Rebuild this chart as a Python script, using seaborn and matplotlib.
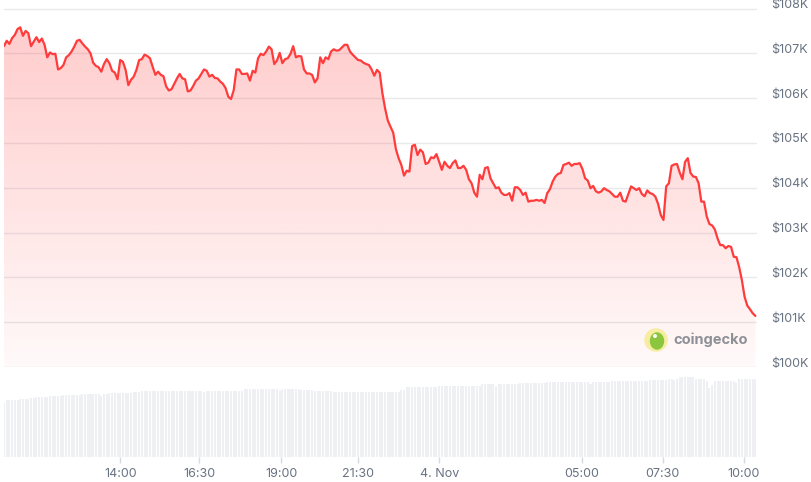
import numpy as np
import pandas as pd
import matplotlib
matplotlib.use("Agg")
import matplotlib.pyplot as plt
import matplotlib.transforms as mtransforms
from matplotlib.patches import Ellipse
import seaborn as sns

# ---------- Data (5-minute samples, price in $K) ----------
price_k = [
    107.16, 107.28, 107.21, 107.34, 107.41, 107.54, 107.58, 107.39, 107.50, 107.45,
    107.16, 107.26, 107.36, 107.25, 107.33, 107.19, 106.91, 107.02, 106.98, 106.99,
    106.64, 106.67, 106.74, 106.91, 106.96, 107.04, 107.15, 107.28, 107.30, 107.22,
    107.15, 107.09, 107.00, 106.79, 106.72, 106.69, 106.59, 106.76, 106.87, 106.78,
    106.61, 106.57, 106.42, 106.85, 106.81, 106.63, 106.29, 106.41, 106.48, 106.63,
    106.85, 106.87, 106.97, 106.94, 106.89, 106.70, 106.52, 106.59, 106.52, 106.49,
    106.26, 106.17, 106.20, 106.32, 106.44, 106.54, 106.44, 106.42, 106.15, 106.17,
    106.27, 106.39, 106.44, 106.54, 106.64, 106.61, 106.48, 106.52, 106.45, 106.44,
    106.37, 106.32, 106.22, 106.03, 105.98, 106.18, 106.64, 106.64, 106.54, 106.54,
    106.55, 106.39, 106.61, 106.57, 106.89, 106.99, 106.96, 107.04, 107.15, 107.09,
    106.76, 106.84, 107.01, 106.78, 106.87, 106.89, 106.99, 107.16, 106.91, 106.94,
    106.93, 106.64, 106.55, 106.55, 106.52, 106.35, 106.44, 106.91, 106.78, 106.91,
    106.87, 107.04, 107.09, 107.06, 107.07, 107.13, 107.19, 107.19, 107.04, 106.97,
    106.91, 106.85, 106.84, 106.79, 106.76, 106.74, 106.64, 106.50, 106.63, 106.57,
    106.11, 105.77, 105.50, 105.36, 105.23, 104.86, 104.66, 104.51, 104.27, 104.38,
    104.36, 104.93, 104.96, 104.73, 104.85, 104.79, 104.53, 104.56, 104.68, 104.66,
    104.75, 104.58, 104.40, 104.58, 104.49, 104.44, 104.55, 104.61, 104.44, 104.44,
    104.49, 104.40, 104.19, 104.10, 103.89, 103.80, 104.29, 104.19, 104.44, 104.46,
    104.21, 104.10, 103.99, 104.01, 103.89, 103.84, 103.84, 103.88, 103.71, 104.01,
    104.01, 103.95, 103.84, 103.89, 103.69, 103.71, 103.71, 103.73, 103.71, 103.73,
    103.66, 103.88, 103.97, 104.14, 104.25, 104.31, 104.33, 104.51, 104.53, 104.56,
    104.49, 104.53, 104.53, 104.55, 104.42, 104.21, 104.16, 103.99, 104.04, 103.92,
    103.89, 103.92, 103.99, 103.95, 103.92, 103.86, 103.80, 103.80, 103.89, 103.71,
    103.69, 103.86, 104.03, 103.99, 103.95, 103.99, 103.86, 103.81, 103.94, 103.88,
    103.86, 103.80, 103.64, 103.39, 103.28, 104.03, 104.10, 104.49, 104.52, 104.53,
    104.34, 104.19, 104.58, 104.66, 104.33, 104.25, 104.24, 104.10, 103.69, 103.69,
    103.36, 103.19, 103.16, 103.07, 102.87, 102.72, 102.72, 102.65, 102.70, 102.68,
    102.46, 102.45, 102.23, 101.94, 101.57, 101.37, 101.29, 101.20, 101.14,
]

# rolling volume (relative units)
volume = [
    54, 57, 57, 57.5, 57, 57.5, 58, 58, 58.3, 58,
    59, 59, 60, 60, 60.5, 60, 60, 61, 61, 61,
    61.5, 61, 62, 62, 62, 62, 62.5, 62, 62, 63,
    63, 63, 63.3, 63, 63, 63, 61, 63, 63, 64,
    64, 64, 64.5, 64, 64, 64, 64.3, 64, 65, 65,
    65, 66, 66, 66, 66.3, 66, 66, 66, 66, 66,
    66, 66, 66.3, 66, 66, 66, 66, 65.8, 66, 66,
    66, 66, 66, 66, 65, 66, 66, 66, 66.3, 66,
    66, 66, 66, 66, 66, 66, 66, 66, 66, 68,
    68, 68, 68, 68, 68, 68.3, 68, 68, 68, 68,
    68, 68, 66, 68, 68, 68, 68, 68, 68, 68,
    67, 67, 67, 67, 67, 66, 66, 66, 66, 66,
    66, 66, 65, 65, 65, 65, 65, 65, 65, 65,
    65, 65, 65, 65, 65, 65, 65, 65, 65, 65,
    65, 65, 65, 65, 65, 65, 65, 67, 67, 70,
    70, 70, 70, 70, 70, 70, 70, 70, 70, 70,
    70, 71, 71, 71, 71, 71, 71, 71, 71, 71,
    71, 71, 71, 71, 71, 71, 71, 73, 73, 73,
    73, 73, 71, 73, 73, 73, 73, 73, 73, 73,
    73, 74, 74, 74, 74, 74, 74, 74, 74, 74,
    74, 75, 75, 75, 75, 75, 75, 75, 75, 75,
    75, 75, 75, 75, 75, 75, 75, 73, 75, 75,
    75, 75, 75, 75, 75, 76, 76, 76, 76, 76,
    76, 76, 76, 76, 76, 76, 76, 76, 76, 77,
    77, 77, 77, 77, 77, 77, 78, 78, 77, 78,
    80, 80, 80, 80, 80, 80, 78, 78, 78, 78,
    76, 69, 72, 76, 76, 76, 76, 76, 76, 76,
    76, 74, 78, 78, 78, 78, 78, 78, 78,
]

time_ticks = [43.0, 72.2, 102.6, 131.1, 161.1, 213.7, 243.7, 273.7]
time_labels = ["14:00", "16:30", "19:00", "21:30", "4. Nov", "05:00", "07:30", "10:00"]
price_levels = [100, 101, 102, 103, 104, 105, 106, 107, 108]
price_labels = ["$100K", "$101K", "$102K", "$103K", "$104K", "$105K", "$106K", "$107K", "$108K"]

df = pd.DataFrame({"idx": np.arange(len(price_k)), "price": price_k, "volume": volume})

# ---------- Style ----------
sns.set_theme(style="white")
plt.rcParams["font.family"] = ["Inter", "DejaVu Sans"]

LINE = "#ff3b3b"
GRID = "#e8eaee"
TXT = "#687282"

fig = plt.figure(figsize=(8.12, 4.82), dpi=100)
W, H = 812, 482
left, right = 4 / W, 757 / W
ax = fig.add_axes([left, (H - 367) / H, right - left, (367 - 8.5) / H])
ax_vol = fig.add_axes([left, (H - 457) / H, right - left, (457 - 370) / H])

x_max = len(price_k) - 1 + 0.6

# ---------- Price panel ----------
for lvl in price_levels:
    ax.axhline(lvl, color=GRID, lw=1, zorder=0)

fill = ax.fill_between(df["idx"], df["price"], 100, color="none", lw=0)
grad = np.zeros((256, 1, 4))
grad[:, 0, 0] = 1.0
grad[:, 0, 1] = 58 / 255
grad[:, 0, 2] = 58 / 255
grad[:, 0, 3] = np.linspace(0.27, 0.03, 256)
im = ax.imshow(grad, extent=[0, x_max, 100, 108], origin="upper",
               aspect="auto", zorder=1)
im.set_clip_path(fill.get_paths()[0], transform=ax.transData)

sns.lineplot(data=df, x="idx", y="price", ax=ax, color=LINE, linewidth=1.6, zorder=3)

ax.set_xlim(0, x_max)
ax.set_ylim(100, 108)
ax.set_xticks([])
ax.yaxis.tick_right()
ax.set_yticks(price_levels)
ax.set_yticklabels(price_labels)
ax.tick_params(axis="y", length=0, pad=10, labelsize=9, labelcolor=TXT)
offset = mtransforms.ScaledTranslation(0, 5 / 100, fig.dpi_scale_trans)
for lbl in ax.get_yticklabels():
    lbl.set_transform(lbl.get_transform() + offset)
ax.set_xlabel("")
ax.set_ylabel("")
sns.despine(ax=ax, left=True, bottom=True, right=True, top=True)

# ---------- Volume panel ----------
sns.barplot(data=df, x="idx", y="volume", ax=ax_vol, color="#eef0f4",
            saturation=1, width=0.75, errorbar=None, native_scale=True, linewidth=0)
ax_vol.set_xlim(0, x_max)
ax_vol.set_ylim(0, 87)
ax_vol.set_yticks([])
ax_vol.set_xticks(time_ticks)
ax_vol.set_xticklabels(time_labels)
ax_vol.tick_params(axis="x", length=4, width=1, color="#d5d9e0", pad=4,
                   labelsize=9, labelcolor=TXT, bottom=True)
ax_vol.set_xlabel("")
ax_vol.set_ylabel("")
sns.despine(ax=ax_vol, left=True, bottom=True, right=True, top=True)

# ---------- Watermark ----------
fig.add_artist(Ellipse((656 / W, 1 - 340 / H), 22 / W, 22 / H,
                       transform=fig.transFigure, color="#f7ec9f", zorder=5))
fig.add_artist(Ellipse((657 / W, 1 - 341 / H), 13 / W, 16 / H,
                       transform=fig.transFigure, color="#8cc63f", zorder=6))
fig.add_artist(Ellipse((655 / W, 1 - 336 / H), 2.5 / W, 2.5 / H,
                       transform=fig.transFigure, color="white", zorder=7))
fig.text(673 / W, 1 - 340 / H, "coingecko", fontsize=10.5, fontweight="bold",
         color="#8d9096", va="center", ha="left")

fig.savefig("out.png", dpi=100, facecolor="white")
